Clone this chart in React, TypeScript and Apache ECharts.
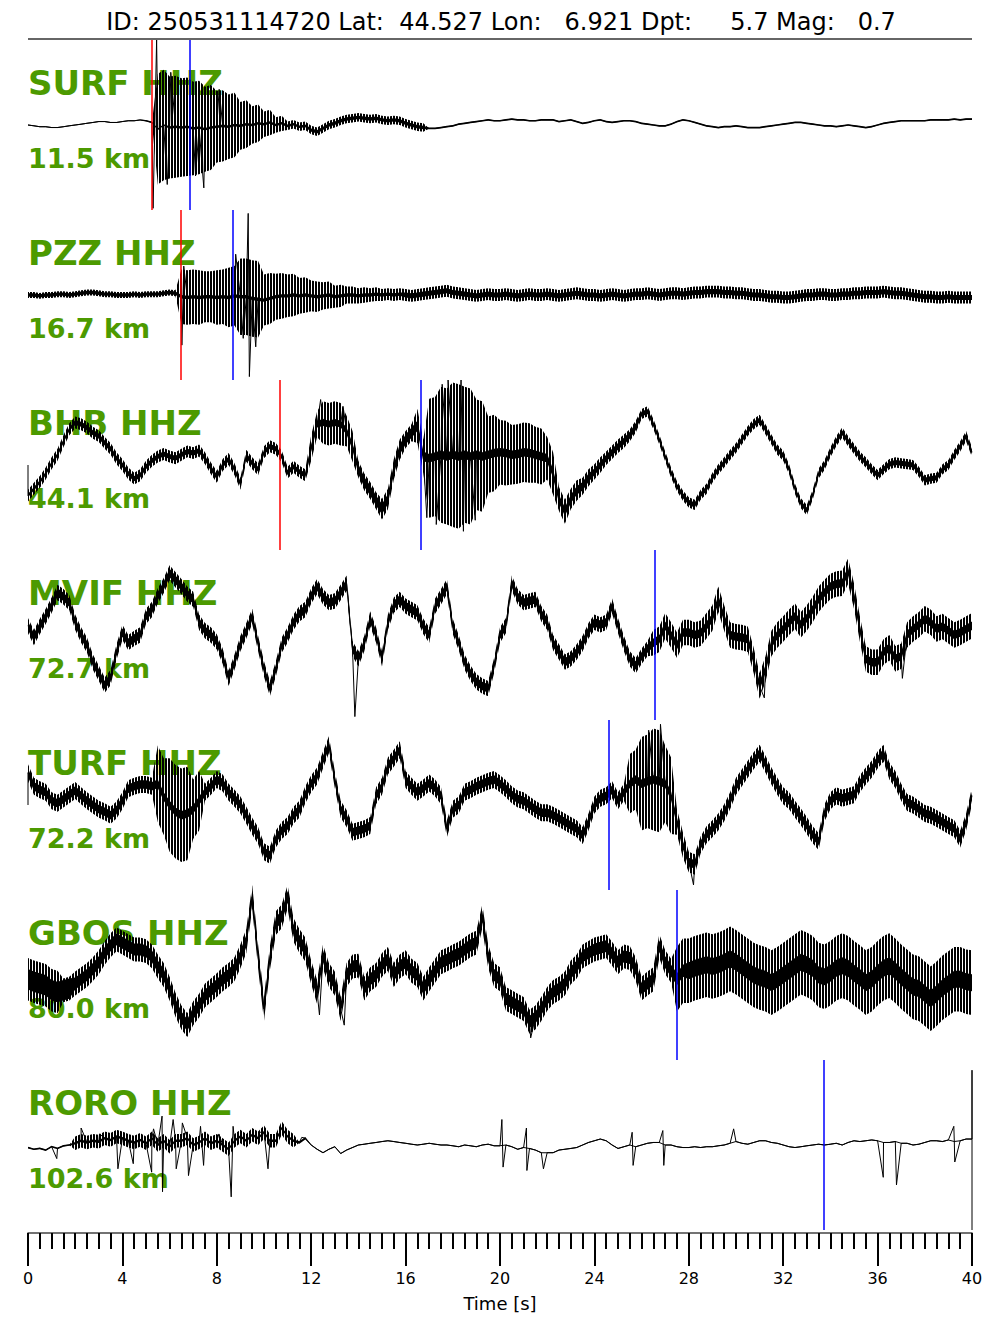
import React, { useEffect, useRef } from "react";
import * as echarts from "echarts";

// Event header and record layout
const TITLE = "ID: 250531114720 Lat:  44.527 Lon:   6.921 Dpt:     5.7 Mag:   0.7";
const DURATION = 40; // s
const SAMPLE_STEP = 0.25; // s between trace samples
const SCATTER_STEP = 0.5; // s between noise-envelope values
const CORE_STEP = 1; // s between core-thickness values
const timeTicks = [0, 4, 8, 12, 16, 20, 24, 28, 32, 36, 40];

const stations = ["SURF HHZ", "PZZ HHZ", "BHB HHZ", "MVIF HHZ", "TURF HHZ", "GBOS HHZ", "RORO HHZ"];
const distances = ["11.5 km", "16.7 km", "44.1 km", "72.7 km", "72.2 km", "80.0 km", "102.6 km"];
const pPicks: (number | null)[] = [5.25, 6.48, 10.66, null, null, null, null];
const sPicks: (number | null)[] = [6.86, 8.69, 16.66, 26.57, 24.6, 27.52, 33.73];

// Normalised vertical-component traces (full scale = ±100): smoothed signal, one sample every 0.25 s
const surfTrace = [
  0, -1, -2, -2, -3, -3, -2, -1,
  0, 1, 2, 3, 4, 4, 3, 3,
  4, 5, 5, 6, 5, 3, -5, 0,
  -3, -2, -3, -2, -4, -3, -5, -3,
  -2, -1, -2, 0, -1, 1, 0, 2,
  1, 3, 0, 2, -1, 1, -2, -1,
  -6, -8, -4, 0, 2, 5, 7, 8,
  9, 8, 7, 8, 6, 5, 6, 5,
  2, 0, -2, -3, -4, -4, -3, -2,
  -1, 1, 2, 3, 4, 5, 6, 5,
  5, 6, 7, 6, 6, 5, 5, 6,
  6, 6, 4, 5, 6, 4, 2, 3,
  5, 6, 4, 3, 4, 5, 5, 4,
  2, 1, 0, -1, -1, 1, 4, 6,
  5, 3, 1, -1, -2, -3, -2, -2,
  -1, -2, -3, -3, -3, -2, -1, 0,
  1, 2, 3, 3, 2, 1, 0, -1,
  -1, -2, -1, 0, -1, -2, -3, -2,
  0, 2, 3, 4, 5, 5, 5, 5,
  5, 6, 6, 6, 6, 7, 6, 7,
  7,
];
const pzzTrace = [
  0, 0, -1, 0, 0, 1, 1, 0,
  1, 2, 3, 3, 2, 1, 1, 0,
  0, 0, 1, 0, 1, 1, 1, 2,
  3, 2, -2, -3, -2, -3, -2, -2,
  -3, -2, -3, -1, -2, -2, -4, -5,
  -6, -4, -2, -1, -1, 0, -1, 0,
  -1, -2, -1, 0, -2, -1, 0, 0,
  -1, 0, 0, 1, 0, 1, 0, 1,
  0, -1, 0, 1, 2, 3, 4, 5,
  3, 2, 1, 0, -1, 0, 1, 0,
  0, 1, 0, -1, 0, 1, 0, 0,
  1, 0, -1, 0, 1, 2, 1, 0,
  0, -1, 0, 1, 0, -1, 0, 1,
  1, 2, 1, 0, 1, 2, 2, 1,
  2, 3, 3, 4, 4, 4, 3, 3,
  2, 2, 1, 0, 0, -1, -2, -2,
  -3, -3, -2, -1, 0, 0, 1, 1,
  0, 0, 1, 1, 2, 2, 3, 3,
  3, 4, 3, 2, 2, 1, 0, -1,
  -2, -2, -3, -3, -2, -3, -3, -3,
  -3,
];
const bhbTrace = [
  -36, -28, -20, -10, 2, 12, 28, 42,
  50, 48, 44, 38, 34, 26, 19, 8,
  0, -10, -16, -12, -2, 5, 10, 13,
  10, 8, 12, 16, 14, 17, 8, -4,
  -14, 0, 7, -5, -22, 11, 2, -5,
  15, 22, 19, 10, -9, -2, -8, -12,
  20, 48, 50, 48, 50, 48, 40, 22,
  -5, -20, -30, -42, -52, -40, -5, 18,
  30, 38, 46, 10, 8, 10, 12, 10,
  12, 10, 12, 10, 12, 10, 12, 14,
  15, 14, 12, 13, 15, 14, 12, 10,
  8, -10, -40, -55, -40, -30, -25, -15,
  -8, 0, 8, 15, 22, 28, 35, 45,
  60, 63, 48, 30, 10, -9, -25, -36,
  -44, -47, -35, -28, -15, -5, 3, 12,
  20, 30, 40, 48, 53, 42, 30, 18,
  11, -5, -28, -45, -53, -35, -10, 0,
  15, 28, 38, 28, 19, 10, 3, -5,
  -12, -5, 1, 3, 2, 1, 0, -8,
  -18, -16, -15, -5, 0, 12, 22, 34,
  15,
];
const mvifTrace = [
  11, -3, 10, 22, 35, 50, 45, 38,
  15, 0, -12, -32, -45, -59, -50, -20,
  3, -9, -4, 0, 22, 30, 46, 58,
  73, 65, 57, 48, 42, 15, 5, 0,
  -8, -25, -51, -32, -10, 5, 22, -10,
  -40, -63, -40, -12, 0, 15, 25, 30,
  46, 57, 45, 38, 40, 50, 61, -16,
  -28, -10, 19, 0, -28, 15, 35, 42,
  34, 30, 26, 10, 0, 34, 45, 57,
  10, -9, -32, -45, -55, -60, -63, -36,
  0, 11, 61, 45, 38, 40, 42, 25,
  15, -9, -20, -32, -28, -20, -10, 5,
  15, 12, 15, 34, 11, -10, -28, -36,
  -25, -16, -9, -5, 11, 0, -12, 3,
  3, 0, 2, 11, 20, 42, 20, 0,
  -2, -3, -5, -30, -60, -40, -10, 0,
  7, 15, 22, 12, 20, 30, 42, 50,
  57, 60, 61, 75, 46, 7, -28, -32,
  -32, -20, -15, -28, -25, 0, 7, 12,
  19, 15, 7, 10, 5, 0, 3, 7,
  11,
];
const turfTrace = [
  38, 22, 18, 15, 5, 2, 7, 12,
  17, 11, 5, 0, -5, -8, -12, -6,
  5, 19, 22, 24, 24, 22, 25, 10,
  0, -8, -12, -10, -5, 5, 15, 22,
  30, 26, 15, 8, 0, -12, -25, -36,
  -55, -59, -40, -30, -24, -12, -5, 12,
  25, 34, 53, 71, 30, -5, -16, -32,
  -30, -28, -24, 11, 22, 46, 55, 65,
  30, 22, 15, 20, 26, 20, 11, -28,
  -5, 0, 15, 18, 22, 25, 28, 30,
  25, 19, 12, 7, 5, 0, -5, -9,
  -9, -12, -16, -20, -24, -28, -36, -20,
  0, 8, 11, 18, 5, 15, 25, 30,
  25, 28, 30, 28, 25, 11, -20, -47,
  -67, -70, -47, -35, -28, -20, -9, 5,
  22, 32, 42, 52, 61, 48, 34, 22,
  11, 5, -5, -14, -24, -35, -43, -9,
  5, 11, 8, 10, 12, 25, 34, 42,
  53, 61, 40, 30, 15, 3, 0, -5,
  -10, -12, -16, -20, -24, -28, -40, -20,
  11,
];
const gbosTrace = [
  -5, -8, -10, -12, -18, -20, -18, -16,
  -10, -5, 0, 7, 15, 26, 35, 42,
  38, 34, 30, 30, 28, 22, 10, 0,
  -16, -35, -50, -59, -45, -36, -24, -18,
  -12, -5, 0, 7, 22, 40, 92, 22,
  -40, 20, 61, 69, 92, 53, 40, 30,
  3, -20, 22, 0, -10, -40, 0, 10,
  11, -16, -5, 0, 12, 19, 0, 10,
  15, 5, 0, -16, -5, 5, 15, 18,
  22, 25, 30, 35, 38, 69, 22, 0,
  -5, -28, -32, -36, -40, -55, -50, -40,
  -28, -20, -16, -10, 3, 10, 22, 26,
  30, 32, 34, 25, 15, 22, 20, 7,
  -16, -10, -5, 34, 15, 5, -5, 5,
  5, 8, 10, 12, 10, 12, 15, 19,
  15, 10, 5, 0, -3, -5, -9, -5,
  0, 5, 10, 15, 12, 8, 0, -2,
  2, 8, 11, 8, 2, -3, -9, -5,
  2, 8, 11, 5, -2, -8, -14, -16,
  -22, -28, -22, -15, -10, -5, -5, -8,
  -9,
];
const roroTrace = [
  -3, -5, -4, -6, -2, -4, -1, 0,
  2, 5, 3, 5, 4, 8, 6, 10,
  8, 5, 3, 6, 2, 8, 0, 5,
  -2, 5, 5, 8, 0, 3, 8, 2,
  5, 0, -5, 5, 10, 5, 12, 8,
  15, 5, 5, 20, 10, 5, 3, 8,
  0, -5, -9, -5, -2, -10, -6, -3,
  0, 1, 2, 3, 4, 5, 4, 3,
  2, 1, 0, 1, 2, 1, 0, 0,
  -1, -2, 0, -1, -2, 0, 1, -1,
  -1, 0, -2, -5, -3, -4, -6, -9,
  -9, -9, -6, -5, -4, -3, 0, 3,
  5, 7, 5, 0, -4, -2, 0, -2,
  0, 2, 3, 3, 0, 0, -2, -3,
  -3, -2, -3, -2, -2, -1, 0, 2,
  4, 2, 1, 3, 5, 5, 3, 2,
  0, -2, -3, -2, -1, 0, 1, 0,
  1, 2, 0, 3, 5, 4, 5, 6,
  5, 3, 3, 4, 2, 2, 0, 1,
  3, 5, 5, 4, 6, 4, 5, 7,
  7,
];

// Impulsive excursions [time s, amplitude] that stand out from the smoothed signal
const surfSpikes = [[5.3, -98], [5.45, 100], [5.9, -70], [6.05, 62], [7.1, -60], [7.45, -74], [8.1, 42]];
const pzzSpikes = [[6.52, -59], [6.6, 34], [8.8, 48], [9.12, -51], [9.33, 96], [9.38, -96], [9.65, -61]];
const bhbSpikes = [[12.4, 77], [13.35, 69], [16.9, -62], [17.3, -70], [17.55, 95], [17.8, 100], [18.35, 100], [18.45, -78], [18.95, -65]];
const mvifSpikes = [[13.85, -96], [31.2, -74], [37.05, -51]];
const turfSpikes = [[26.3, 88], [26.8, 95], [28.2, -94]];
const gbosSpikes = [[12.35, -47], [13.4, -59], [21.3, -74]];
const roroSpikes = [
  [1.22, -16], [2.25, 20], [3.03, 13], [3.81, -28], [4.46, -22], [5.24, -32], [5.32, 19],
  [5.68, 34], [5.7, -55], [6.15, 30], [6.28, -28], [6.54, 26], [6.8, -36], [7.31, 22],
  [7.44, -24], [8.09, 13], [8.61, -61], [8.69, 22], [9.0, 11], [9.78, 15], [10.17, -28],
  [11.6, 9], [20.08, 30], [20.13, -26], [21.12, 20], [21.14, -30], [21.84, -28],
  [25.6, 15], [25.64, -24], [26.9, 17], [26.94, -24], [29.9, 19], [36.24, -38],
  [36.8, -47], [39.23, 22], [39.27, -20],
];

// Extra samples that fall exactly on the record's first / last instant
const traceLead: number[][] = [[], [], [0], [], [0], [], []];
const traceTail: number[][] = [[], [], [], [], [], [], [88, -100]];

// Half-width of the solid trace core, one value per second
const surfCore = [
  0.6, 0.6, 0.6, 0.6, 0.6, 1, 1.5, 1.5, 1.5, 1.5,
  1.5, 1.5, 2, 2, 2, 2, 2, 1, 1, 1,
  1, 1, 1, 1, 1, 1, 1, 1, 1, 1,
  1, 1, 1, 1, 1, 1, 1, 1, 1, 1,
  1,
];
const pzzCore = [
  2, 2, 2, 2, 2, 2, 2, 2, 2, 2,
  2, 2, 2, 2, 2, 2, 3, 3, 3, 3,
  3, 3, 3, 3, 3, 3, 3, 3, 3, 3,
  3, 3, 3, 3, 3, 3, 3, 3, 3, 3,
  3,
];
const bhbCore = [
  2, 2, 3, 3, 3, 3, 3, 3, 3, 3,
  3, 3, 4, 4, 6, 6, 6, 5, 5, 5,
  5, 5, 5, 5, 4, 4, 3, 3, 3, 3,
  3, 3, 3, 3, 3, 3, 3, 3, 3, 3,
  3,
];
const mvifCore = [
  5, 5, 5, 5, 5, 5, 5, 5, 5, 5,
  5, 5, 5, 5, 5, 5, 5, 5, 5, 5,
  5, 5, 5, 5, 5, 5, 5, 5, 5, 5,
  5, 5, 5, 5, 5, 5, 5, 5, 5, 5,
  5,
];
const turfCore = [
  5, 5, 5, 5, 5, 5, 5, 5, 5, 5,
  5, 5, 5, 5, 5, 5, 5, 5, 5, 5,
  5, 5, 5, 5, 5, 5, 5, 5, 5, 5,
  5, 5, 5, 5, 5, 5, 5, 5, 5, 5,
  5,
];
const gbosCore = [
  12, 12, 7, 7, 7, 7, 7, 7, 7, 7,
  7, 7, 7, 7, 7, 7, 7, 7, 7, 7,
  7, 7, 7, 7, 7, 7, 7, 7, 10, 10,
  10, 10, 10, 10, 10, 10, 10, 10, 10, 10,
  10,
];
const roroCore = [
  1, 1, 1.5, 1.5, 1.5, 1.5, 1.5, 1.5, 1.5, 1.5,
  1.5, 1.5, 0.6, 0.6, 0.6, 0.6, 0.6, 0.6, 0.6, 0.6,
  0.6, 0.6, 0.6, 0.6, 0.6, 0.6, 0.6, 0.6, 0.6, 0.6,
  0.6, 0.6, 0.6, 0.6, 0.6, 0.6, 0.6, 0.6, 0.6, 0.6,
  0.6,
];

// Half-width of the dense high-frequency scatter around the signal, one value per 0.5 s
const surfScatter = [
  0, 0, 0, 0, 0, 0, 0, 0, 0, 0,
  0, 65, 60, 58, 55, 50, 42, 38, 28, 22,
  15, 9, 5, 5, 5, 5, 5, 5, 5, 5,
  5, 5, 5, 5, 0, 0, 0, 0, 0, 0,
  0, 0, 0, 0, 0, 0, 0, 0, 0, 0,
  0, 0, 0, 0, 0, 0, 0, 0, 0, 0,
  0, 0, 0, 0, 0, 0, 0, 0, 0, 0,
  0, 0, 0, 0, 0, 0, 0, 0, 0, 0,
  0,
];
const pzzScatter = [
  3.5, 3.5, 3.5, 3.5, 3.5, 3.5, 3.5, 3.5, 3.5, 3.5,
  3.5, 3.5, 3.5, 32, 32, 30, 32, 35, 45, 45,
  30, 27, 25, 21, 18, 16, 13, 10, 9, 8,
  7, 7, 7, 7, 7, 7, 7, 7, 7, 7,
  7, 7, 7, 7, 7, 7, 7, 7, 7, 7,
  7, 7, 7, 7, 7, 7, 7, 7, 7, 7,
  7, 7, 7, 7, 7, 7, 7, 7, 7, 7,
  7, 7, 7, 7, 7, 7, 7, 7, 7, 7,
  7,
];
const bhbScatter = [
  7, 7, 7, 7, 7, 7, 7, 7, 7, 7,
  7, 7, 7, 7, 7, 7, 7, 7, 7, 7,
  7, 7, 7, 7, 15, 25, 25, 18, 10, 10,
  12, 12, 10, 20, 70, 80, 85, 80, 65, 45,
  38, 35, 35, 33, 25, 14, 12, 10, 9, 8,
  8, 7, 6, 6, 6, 6, 6, 6, 6, 6,
  6, 6, 6, 6, 6, 6, 6, 6, 6, 6,
  6, 6, 6, 6, 6, 6, 6, 6, 6, 6,
  6,
];
const mvifScatter = [
  9, 9, 9, 9, 9, 9, 9, 9, 9, 9,
  9, 9, 9, 9, 9, 9, 9, 9, 9, 9,
  9, 9, 9, 9, 9, 9, 9, 9, 9, 9,
  9, 9, 9, 9, 9, 9, 9, 9, 9, 9,
  9, 9, 9, 9, 9, 9, 9, 9, 9, 9,
  9, 9, 9, 15, 15, 15, 15, 15, 15, 15,
  15, 15, 15, 15, 15, 15, 15, 15, 15, 15,
  15, 15, 15, 15, 15, 15, 15, 15, 15, 15,
  15,
];
const turfScatter = [
  10, 10, 10, 10, 10, 10, 10, 10, 10, 10,
  10, 45, 55, 55, 35, 10, 10, 10, 10, 10,
  10, 10, 10, 10, 10, 10, 10, 10, 10, 10,
  10, 10, 10, 10, 10, 10, 10, 10, 10, 10,
  10, 10, 10, 10, 10, 10, 10, 10, 10, 10,
  10, 35, 55, 60, 45, 15, 12, 10, 10, 10,
  10, 10, 10, 10, 10, 10, 10, 10, 10, 10,
  10, 10, 10, 10, 10, 10, 10, 10, 10, 10,
  10,
];
const gbosScatter = [
  25, 25, 25, 14, 14, 14, 14, 14, 14, 14,
  14, 14, 14, 14, 14, 14, 14, 14, 14, 14,
  14, 14, 14, 14, 14, 14, 14, 14, 14, 14,
  14, 14, 14, 14, 14, 14, 14, 14, 14, 14,
  14, 14, 14, 14, 14, 14, 14, 14, 14, 14,
  14, 14, 14, 14, 14, 38, 38, 38, 38, 38,
  38, 38, 38, 38, 38, 38, 38, 38, 38, 38,
  38, 38, 38, 38, 38, 38, 38, 38, 38, 38,
  38,
];
const roroScatter = [
  0, 0, 0, 0, 8, 8, 8, 8, 8, 8,
  8, 8, 8, 8, 8, 8, 8, 8, 8, 8,
  8, 8, 8, 0, 0, 0, 0, 0, 0, 0,
  0, 0, 0, 0, 0, 0, 0, 0, 0, 0,
  0, 0, 0, 0, 0, 0, 0, 0, 0, 0,
  0, 0, 0, 0, 0, 0, 0, 0, 0, 0,
  0, 0, 0, 0, 0, 0, 0, 0, 0, 0,
  0, 0, 0, 0, 0, 0, 0, 0, 0, 0,
  0,
];

const traces = [surfTrace, pzzTrace, bhbTrace, mvifTrace, turfTrace, gbosTrace, roroTrace];
const spikes = [surfSpikes, pzzSpikes, bhbSpikes, mvifSpikes, turfSpikes, gbosSpikes, roroSpikes];
const cores = [surfCore, pzzCore, bhbCore, mvifCore, turfCore, gbosCore, roroCore];
const scatters = [surfScatter, pzzScatter, bhbScatter, mvifScatter, turfScatter, gbosScatter, roroScatter];

// Page layout (px)
const PAGE_W = 1000;
const PAGE_H = 1333;
const PLOT_LEFT = 28;
const PLOT_RIGHT = 28;
const PANEL_TOP = 40;
const PANEL_H = 170;
const AXIS_Y = 1233;
const LABEL_GREEN = "#4c9a00";
const FONT = "DejaVu Sans";

// Fine vertical hatching used to render dense high-frequency energy
function makeHatch(): any {
  const c = document.createElement("canvas");
  c.width = 3;
  c.height = 4;
  const ctx = c.getContext("2d");
  if (ctx) {
    ctx.fillStyle = "#000";
    ctx.fillRect(0, 0, 2, 4);
  }
  return { image: c, repeat: "repeat" };
}

function bandSeries(k: number, halfWidth: (i: number) => number, fill: any, z: number) {
  const trace = traces[k];
  return {
    type: "custom",
    xAxisIndex: k,
    yAxisIndex: k,
    silent: true,
    clip: false,
    z,
    data: [[0, 0]],
    renderItem: (_params: any, api: any) => {
      const upper = trace.map((v, i) => api.coord([i * SAMPLE_STEP, v + halfWidth(i)]));
      const lower: number[][] = [];
      for (let i = trace.length - 1; i >= 0; i--) {
        lower.push(api.coord([i * SAMPLE_STEP, trace[i] - halfWidth(i)]));
      }
      return {
        type: "polygon",
        shape: { points: upper.concat(lower) },
        style: { fill, stroke: "none" },
      };
    },
  };
}

// Full-height phase pick line
function pickSeries(k: number, t: number, color: string) {
  return {
    type: "custom",
    xAxisIndex: k,
    yAxisIndex: k,
    silent: true,
    clip: false,
    z: 6,
    data: [[t, 0]],
    renderItem: (_params: any, api: any) => {
      const top = api.coord([api.value(0), 100]);
      const bottom = api.coord([api.value(0), -100]);
      const x = Math.round(top[0]);
      return {
        type: "line",
        shape: { x1: x, y1: top[1], x2: x, y2: bottom[1] },
        style: { stroke: color, lineWidth: 1.5 },
      };
    },
  };
}

function buildOption(): echarts.EChartsOption {
  const grids: any[] = [];
  const xAxes: any[] = [];
  const yAxes: any[] = [];
  const series: any[] = [];
  const graphics: any[] = [];
  const hatch = makeHatch();

  traces.forEach((trace, k) => {
    grids.push({ left: PLOT_LEFT, right: PLOT_RIGHT, top: PANEL_TOP + PANEL_H * k, height: PANEL_H });
    xAxes.push({ gridIndex: k, type: "value", min: 0, max: DURATION, show: false });
    yAxes.push({ gridIndex: k, type: "value", min: -100, max: 100, show: false });

    const scatter = scatters[k];
    const core = cores[k];
    series.push(bandSeries(k, (i) => scatter[Math.floor((i * SAMPLE_STEP) / SCATTER_STEP)], hatch, 2));
    series.push(bandSeries(k, (i) => core[Math.floor((i * SAMPLE_STEP) / CORE_STEP)], "#000", 3));

    const points: number[][] = [
      ...traceLead[k].map((v) => [0, v]),
      ...trace.map((v, i) => [i * SAMPLE_STEP, v]),
      ...traceTail[k].map((v) => [DURATION, v]),
      ...spikes[k].map((s) => [s[0], s[1]]),
    ];
    points.sort((a, b) => a[0] - b[0]);

    series.push({
      type: "line",
      name: stations[k],
      xAxisIndex: k,
      yAxisIndex: k,
      data: points,
      showSymbol: false,
      symbol: "none",
      silent: true,
      clip: false,
      z: 4,
      lineStyle: { color: "#000", width: 1 },
    });

    const p = pPicks[k];
    const s = sPicks[k];
    if (p !== null) series.push(pickSeries(k, p, "#ff0000"));
    if (s !== null) series.push(pickSeries(k, s, "#0000ff"));

    const top = PANEL_TOP + PANEL_H * k;
    graphics.push({
      type: "text",
      x: PLOT_LEFT,
      y: top + 43,
      z: 1,
      silent: true,
      style: {
        text: stations[k],
        fontSize: 34,
        fontWeight: "bold",
        fontFamily: FONT,
        fill: LABEL_GREEN,
        align: "left",
        verticalAlign: "middle",
      },
    });
    graphics.push({
      type: "text",
      x: PLOT_LEFT,
      y: top + 118,
      z: 1,
      silent: true,
      style: {
        text: distances[k],
        fontSize: 27,
        fontWeight: "bold",
        fontFamily: FONT,
        fill: LABEL_GREEN,
        align: "left",
        verticalAlign: "middle",
      },
    });
  });

  // time axis under the stack of traces
  const axisIdx = traces.length;
  grids.push({ left: PLOT_LEFT, right: PLOT_RIGHT, top: AXIS_Y - 1, height: 1 });
  xAxes.push({
    gridIndex: axisIdx,
    type: "value",
    min: timeTicks[0],
    max: timeTicks[timeTicks.length - 1],
    interval: timeTicks[1] - timeTicks[0],
    axisLine: { show: true, lineStyle: { color: "#444", width: 1.5 } },
    axisTick: { show: true, length: 33, lineStyle: { color: "#000", width: 2 } },
    minorTick: { show: true, splitNumber: 8, length: 16, lineStyle: { color: "#000", width: 2 } },
    axisLabel: { margin: 37, fontSize: 16, color: "#000", fontFamily: FONT },
    splitLine: { show: false },
    minorSplitLine: { show: false },
    name: "Time [s]",
    nameLocation: "middle",
    nameGap: 61,
    nameTextStyle: { fontSize: 18, color: "#000", fontFamily: FONT },
  });
  yAxes.push({ gridIndex: axisIdx, type: "value", min: 0, max: 1, show: false });

  graphics.push({
    type: "text",
    x: 501,
    y: 22,
    silent: true,
    style: {
      text: TITLE,
      fontSize: 24,
      fontFamily: FONT,
      fill: "#000",
      align: "center",
      verticalAlign: "middle",
    },
  });
  graphics.push({
    type: "line",
    silent: true,
    shape: { x1: PLOT_LEFT, y1: 39, x2: PAGE_W - PLOT_RIGHT, y2: 39 },
    style: { stroke: "#333", lineWidth: 1.5 },
  });

  return {
    animation: false,
    backgroundColor: "#fff",
    grid: grids,
    xAxis: xAxes,
    yAxis: yAxes,
    series,
    graphic: { elements: graphics },
  };
}

export default function App() {
  const ref = useRef<HTMLDivElement>(null);

  useEffect(() => {
    if (!ref.current) return;
    const chart = echarts.init(ref.current, undefined, { renderer: "svg" });
    chart.setOption(buildOption());
    return () => chart.dispose();
  }, []);

  return (
    <div
      ref={ref}
      style={{ position: "absolute", left: 0, top: 0, width: PAGE_W, height: PAGE_H, background: "#fff" }}
    />
  );
}
